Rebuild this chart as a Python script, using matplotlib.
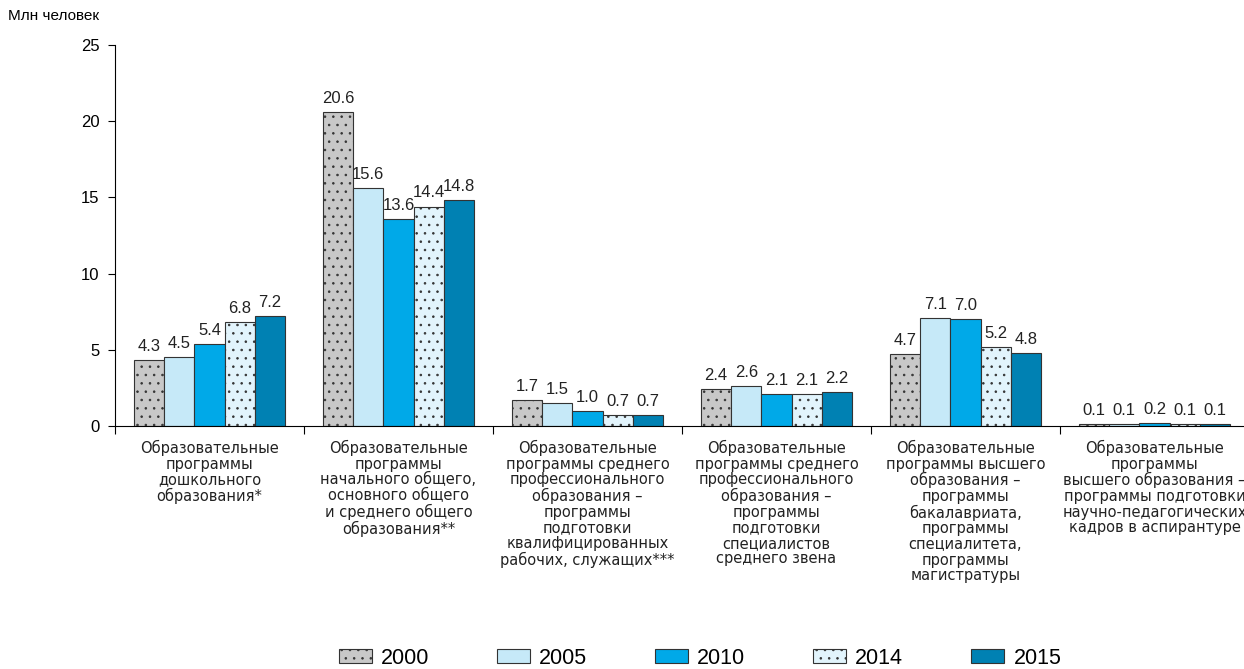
import matplotlib
matplotlib.use('Agg')
import matplotlib.pyplot as plt
import numpy as np

plt.rcParams['hatch.linewidth'] = 0.6

categories = [
    'Образовательные\nпрограммы\nдошкольного\nобразования*',
    'Образовательные\nпрограммы\nначального общего,\nосновного общего\nи среднего общего\nобразования**',
    'Образовательные\nпрограммы среднего\nпрофессионального\nобразования –\nпрограммы\nподготовки\nквалифицированных\nрабочих, служащих***',
    'Образовательные\nпрограммы среднего\nпрофессионального\nобразования –\nпрограммы\nподготовки\nспециалистов\nсреднего звена',
    'Образовательные\nпрограммы высшего\nобразования –\nпрограммы\nбакалавриата,\nпрограммы\nспециалитета,\nпрограммы\nмагистратуры',
    'Образовательные\nпрограммы\nвысшего образования –\nпрограммы подготовки\nнаучно-педагогических\nкадров в аспирантуре',
]
years = ['2000', '2005', '2010', '2014', '2015']
v2000 = [4.3, 20.6, 1.7, 2.4, 4.7, 0.1]
v2005 = [4.5, 15.6, 1.5, 2.6, 7.1, 0.1]
v2010 = [5.4, 13.6, 1.0, 2.1, 7.0, 0.2]
v2014 = [6.8, 14.4, 0.7, 2.1, 5.2, 0.1]
v2015 = [7.2, 14.8, 0.7, 2.2, 4.8, 0.1]
series = [v2000, v2005, v2010, v2014, v2015]

colors = ['#c8c8c8', '#c6e9f8', '#00a9e8', '#e2f4fc', '#0081b3']
hatch_colors = ['#444444', '#333333', '#333333', '#00a9e8', '#333333']
hatches = ['..', None, None, '..', None]

num_font = 'Liberation Sans'

fig = plt.figure(figsize=(12.44, 6.69), dpi=100)
ax = fig.add_axes([115 / 1244, 1 - 426 / 669, 1134 / 1244, 381 / 669])

x = np.arange(len(categories))
width = 0.16
for i, vals in enumerate(series):
    pos = x + (i - 2) * width
    plt.rcParams['hatch.color'] = hatch_colors[i]
    bars = ax.bar(pos, vals, width, color=colors[i], edgecolor='#333333',
                  linewidth=0.8, hatch=hatches[i], label=years[i])
    for b, v in zip(bars, vals):
        ax.text(b.get_x() + b.get_width() / 2, v + 0.4, '%.1f' % v,
                ha='center', va='bottom', fontsize=12, color='#222222',
                family=num_font)

ax.set_xlim(-0.5, len(categories) - 0.5)
ax.set_ylim(0, 25)
ax.set_yticks([0, 5, 10, 15, 20, 25])
ax.tick_params(axis='y', labelsize=12, length=5, width=0.8, direction='out',
               pad=6)
for t in ax.get_yticklabels():
    t.set_family(num_font)
ax.set_xticks(x)
ax.set_xticklabels(categories, fontsize=10.5, linespacing=1.05, color='#222222')
ax.tick_params(axis='x', length=0, pad=10)
ax.set_xticks(np.arange(-0.5, len(categories), 1), minor=True)
ax.tick_params(axis='x', which='minor', length=6, width=0.8)
for s in ['top', 'right']:
    ax.spines[s].set_visible(False)
ax.spines['left'].set_linewidth(0.8)
ax.spines['bottom'].set_linewidth(0.8)

fig.text(8 / 1244, 1 - 16 / 669, 'Млн человек', fontsize=11, va='center',
         family=num_font)

leg = fig.legend(loc='center', bbox_to_anchor=(700 / 1244, 1 - 658 / 669),
                 ncol=5, frameon=False, handlelength=1.53, handleheight=0.65,
                 columnspacing=3.16, handletextpad=0.42,
                 prop={'family': num_font, 'size': 15.5})

plt.savefig('out.png')
